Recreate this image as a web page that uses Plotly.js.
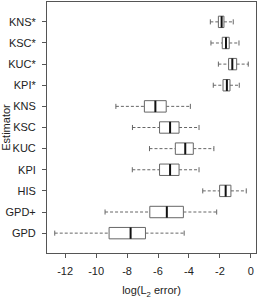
<!DOCTYPE html>
<html>
<head>
<meta charset="utf-8">
<script src="https://cdn.plot.ly/plotly-3.0.1.min.js"></script>
<style>html,body{margin:0;padding:0;background:#fff;}#chart{width:258px;height:301px;}</style>
</head>
<body>
<div id="chart"></div>
<script>
// Categories listed bottom to top
var categories = ["GPD", "GPD+", "HIS", "KPI", "KUC", "KSC", "KNS", "KPI*", "KUC*", "KSC*", "KNS*"];
var lowerWhisker = [-12.67, -9.42, -3.11, -7.66, -6.55, -7.65, -8.72, -2.43, -2.10, -2.58, -2.62];
var q1 = [-9.16, -6.53, -2.02, -5.90, -4.88, -5.90, -6.88, -1.80, -1.44, -1.85, -2.10];
var median = [-7.77, -5.43, -1.63, -5.22, -4.24, -5.22, -6.17, -1.55, -1.20, -1.61, -1.89];
var q3 = [-6.81, -4.36, -1.29, -4.64, -3.72, -4.64, -5.47, -1.35, -0.92, -1.40, -1.74];
var upperWhisker = [-4.31, -2.21, -0.30, -3.35, -2.39, -3.35, -3.91, -0.75, -0.17, -0.77, -1.14];
var xTicks = [-12, -10, -8, -6, -4, -2, 0];

var halfBox = 0.27, halfStaple = 0.12;
var wx = [], wy = [], sx = [], sy = [], bx = [], by = [], mx = [], my = [];
categories.forEach(function (c, i) {
  var p = i + 1;
  wx.push(lowerWhisker[i], q1[i], null, q3[i], upperWhisker[i], null);
  wy.push(p, p, null, p, p, null);
  sx.push(lowerWhisker[i], lowerWhisker[i], null, upperWhisker[i], upperWhisker[i], null);
  sy.push(p - halfStaple, p + halfStaple, null, p - halfStaple, p + halfStaple, null);
  bx.push(q1[i], q3[i], q3[i], q1[i], q1[i], null);
  by.push(p - halfBox, p - halfBox, p + halfBox, p + halfBox, p - halfBox, null);
  mx.push(median[i], median[i], null);
  my.push(p - halfBox, p + halfBox, null);
});

var traces = [
  {x: wx, y: wy, mode: "lines", line: {color: "#666", width: 1, dash: "3px,2px"}, hoverinfo: "skip"},
  {x: sx, y: sy, mode: "lines", line: {color: "#666", width: 1}, hoverinfo: "skip"},
  {x: bx, y: by, mode: "lines", fill: "toself", fillcolor: "#fff", line: {color: "#666", width: 1}, hoverinfo: "skip"},
  {x: mx, y: my, mode: "lines", line: {color: "#111", width: 2}, hoverinfo: "skip"}
];

var font = {family: "Liberation Sans, Arial, sans-serif", size: 11, color: "#222"};
var layout = {
  width: 258, height: 301,
  margin: {l: 47, r: 2, t: 2, b: 48},
  paper_bgcolor: "#fff", plot_bgcolor: "#fff",
  showlegend: false, hovermode: false,
  font: font,
  xaxis: {
    range: [-13.17, 0.33], tickvals: xTicks, ticktext: xTicks.map(String),
    showgrid: false, zeroline: false, showline: true, mirror: true,
    linecolor: "#555", linewidth: 1, ticks: "outside", ticklen: 4, tickcolor: "#555",
    ticklabelstandoff: 4,
    title: {text: "log(L<sub>2</sub> error)", font: font, standoff: 10}
  },
  yaxis: {
    range: [0.06, 11.94], tickvals: categories.map(function (c, i) { return i + 1; }), ticktext: categories,
    showgrid: false, zeroline: false, showline: true, mirror: true,
    linecolor: "#555", linewidth: 1, ticks: "outside", ticklen: 4, tickcolor: "#555",
    ticklabelstandoff: 4,
    title: {text: "Estimator", font: font, standoff: 2}
  }
};
Plotly.newPlot("chart", traces, layout, {displayModeBar: false, staticPlot: true});
</script>
</body>
</html>
